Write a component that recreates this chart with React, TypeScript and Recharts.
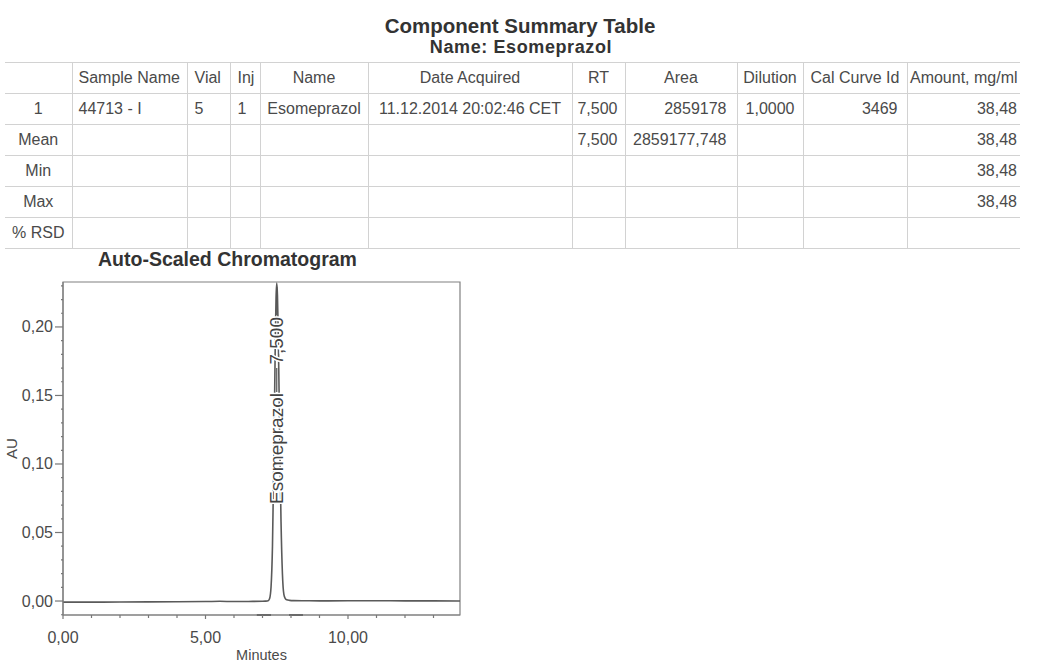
import { Label, Line, LineChart, ReferenceArea, ReferenceLine, XAxis, YAxis } from 'recharts';

// chromatogram trace (minutes vs AU)
const minutes = [
  0, 1, 2, 3, 4, 5, 5.5, 6, 6.5, 7.0, 7.1, 7.2, 7.25, 7.3, 7.35, 7.4, 7.45, 7.475, 7.5, 7.525, 7.55, 7.6,
  7.65, 7.7, 7.75, 7.8, 7.85, 7.95, 8.1, 8.5, 9, 10, 11, 12, 13, 13.93,
];
const absorbance = [
  -0.0008, -0.0008, -0.0007, -0.0006, -0.0005, -0.0004, -0.0002, -0.0004, -0.0003, -0.0002, -0.0001, 0.0002,
  0.0018, 0.0102, 0.04, 0.106, 0.191, 0.221, 0.232, 0.223, 0.199, 0.125, 0.058, 0.0196, 0.0049, 0.0018,
  0.0009, 0.0005, 0.0003, 0.0002, 0.0001, 0.0002, 0.0002, 0.0001, 0.0001, 0.0,
];

const peakName = 'Esomeprazol';
const peakRT = 7.5;
const peakRTLabel = '7,500';
const peakStartMark = [6.8, 7.3];
const peakEndMark = [7.93, 8.42];

const xDomain = [0, 13.93];
const yDomain = [-0.0102, 0.2328];
const xTicks = [0, 1, 2, 3, 4, 5, 6, 7, 8, 9, 10, 11, 12, 13];
const yTicks = [
  -0.01, 0, 0.01, 0.02, 0.03, 0.04, 0.05, 0.06, 0.07, 0.08, 0.09, 0.1, 0.11, 0.12, 0.13, 0.14, 0.15, 0.16,
  0.17, 0.18, 0.19, 0.2, 0.21, 0.22, 0.23,
];

// summary table
const tableHeaders = ['', 'Sample Name', 'Vial', 'Inj', 'Name', 'Date Acquired', 'RT', 'Area', 'Dilution', 'Cal Curve Id', 'Amount, mg/ml'];
const rowSample = ['1', '44713 - I', '5', '1', 'Esomeprazol', '11.12.2014 20:02:46 CET', '7,500', '2859178', '1,0000', '3469', '38,48'];
const rowMean = ['Mean', '', '', '', '', '', '7,500', '2859177,748', '', '', '38,48'];
const rowMin = ['Min', '', '', '', '', '', '', '', '', '', '38,48'];
const rowMax = ['Max', '', '', '', '', '', '', '', '', '', '38,48'];
const rowRsd = ['% RSD', '', '', '', '', '', '', '', '', '', ''];

const data = minutes.map((t, i) => ({ t, au: absorbance[i] }));

const FONT = '"Liberation Sans", Arial, sans-serif';
const INK = '#4a4a4a';
const GRID = '1px solid #d2d2d2';

const colWidths = [67, 115, 43, 30, 108, 204, 53, 112, 66, 104, 113];
const bodyAlign = ['center', 'left', 'left', 'left', 'center', 'center', 'right', 'right', 'center', 'right', 'right'];
const headAlign = ['center', 'left', 'left', 'left', 'center', 'center', 'center', 'center', 'center', 'center', 'center'];
const colPad = [0, 6, 7, 7, 0, 0, 7, 10, 0, 9, 3];

const fmt = (v: number) => v.toFixed(2).replace('.', ',');

function YTick(props: any) {
  const { x, y, payload } = props;
  const v = payload.value as number;
  const major = Math.round(v * 100) % 5 === 0 && v >= 0;
  return (
    <g>
      <line x1={x - (major ? 8 : 2)} x2={x} y1={y} y2={y} stroke="#777" strokeWidth={1.2} />
      {major && (
        <text x={x - 10} y={y} textAnchor="end" dominantBaseline="central" fontSize={16} fill={INK} fontFamily={FONT}>
          {fmt(v)}
        </text>
      )}
    </g>
  );
}

function XTick(props: any) {
  const { x, y, payload } = props;
  const v = payload.value as number;
  const major = v % 5 === 0;
  return (
    <g>
      <line x1={x} x2={x} y1={y} y2={y + (major ? 4 : 3)} stroke="#777" strokeWidth={1.2} />
      {major && (
        <text x={x} y={y + 22} textAnchor="middle" dominantBaseline="central" fontSize={16} fill={INK} fontFamily={FONT}>
          {fmt(v)}
        </text>
      )}
    </g>
  );
}

function PeakLabel(props: any) {
  const vb = props.viewBox || {};
  const x = vb.x;
  const top = vb.y;
  const textStyle = {
    fontSize: 19,
    fill: '#444',
    fontFamily: FONT,
    stroke: '#fff',
    strokeWidth: 3,
    paintOrder: 'stroke',
  } as any;
  return (
    <g>
      <line x1={x} x2={x} y1={top + 5} y2={top + 33} stroke="#555" strokeWidth={1.2} />
      <text
        x={x}
        y={top + 35}
        transform={`rotate(-90, ${x}, ${top + 35})`}
        textAnchor="end"
        dominantBaseline="central"
        style={textStyle}
      >
        {peakRTLabel}
      </text>
      <line x1={x} x2={x} y1={top + 86} y2={top + 110} stroke="#555" strokeWidth={1.2} />
      <text
        x={x}
        y={top + 111}
        transform={`rotate(-90, ${x}, ${top + 111})`}
        textAnchor="end"
        dominantBaseline="central"
        style={textStyle}
      >
        {peakName}
      </text>
    </g>
  );
}

function SummaryTable() {
  const rows = [rowSample, rowMean, rowMin, rowMax, rowRsd];
  const cell = (i: number, align: string): React.CSSProperties => ({
    height: 30,
    padding: 0,
    paddingLeft: align === 'left' ? colPad[i] : 0,
    paddingRight: align === 'right' ? colPad[i] : 0,
    textAlign: align as any,
    borderLeft: i > 0 ? GRID : 'none',
    whiteSpace: 'nowrap',
    overflow: 'hidden',
  });
  return (
    <table
      style={{
        position: 'absolute',
        left: 5,
        top: 62,
        borderCollapse: 'collapse',
        tableLayout: 'fixed',
        width: colWidths.reduce((a, b) => a + b, 0),
        fontFamily: FONT,
        fontSize: 16,
        color: INK,
      }}
    >
      <colgroup>
        {colWidths.map((w, i) => (
          <col key={i} style={{ width: w }} />
        ))}
      </colgroup>
      <tbody>
        <tr style={{ borderTop: GRID, borderBottom: GRID }}>
          {tableHeaders.map((h, i) => (
            <td key={i} style={cell(i, headAlign[i])}>
              {h}
            </td>
          ))}
        </tr>
        {rows.map((r, ri) => (
          <tr key={ri} style={{ borderBottom: GRID }}>
            {r.map((v, i) => (
              <td key={i} style={cell(i, bodyAlign[i])}>
                {v}
              </td>
            ))}
          </tr>
        ))}
      </tbody>
    </table>
  );
}

export default function App() {
  return (
    <div style={{ position: 'absolute', left: 0, top: 0, width: 1037, height: 662, background: '#fff', overflow: 'hidden' }}>
      <div style={{ position: 'absolute', left: 0, width: 1040, top: 14, textAlign: 'center', fontFamily: FONT, fontWeight: 700, fontSize: 20.5, color: '#333' }}>
        Component Summary Table
      </div>
      <div style={{ position: 'absolute', left: 0, width: 1042, top: 37, textAlign: 'center', fontFamily: FONT, fontWeight: 700, fontSize: 18, letterSpacing: 0.6, color: '#333' }}>
        Name: Esomeprazol
      </div>
      <SummaryTable />
      <div style={{ position: 'absolute', left: 98, top: 248, fontFamily: FONT, fontWeight: 700, fontSize: 19.5, color: '#333', whiteSpace: 'nowrap' }}>
        Auto-Scaled Chromatogram
      </div>
      <div style={{ position: 'absolute', left: 0, top: 240 }}>
        <LineChart width={470} height={422} data={data} margin={{ top: 42, right: 10, left: 0, bottom: 0 }}>
          <XAxis
            type="number"
            dataKey="t"
            domain={xDomain}
            ticks={xTicks}
            allowDataOverflow
            height={47}
            tickSize={0}
            tickMargin={0}
            tick={<XTick />}
            axisLine={{ stroke: '#808080', strokeWidth: 1.2 }}
            tickLine={false}
            interval={0}
          >
            <Label
              content={(p: any) => {
                const vb = p.viewBox;
                return (
                  <text x={vb.x + vb.width / 2} y={vb.y + 40} textAnchor="middle" dominantBaseline="central" fontSize={14.5} fill={INK} fontFamily={FONT}>
                    Minutes
                  </text>
                );
              }}
            />
          </XAxis>
          <YAxis
            type="number"
            domain={yDomain}
            ticks={yTicks}
            allowDataOverflow
            width={63}
            tickSize={0}
            tickMargin={0}
            tick={<YTick />}
            axisLine={{ stroke: '#808080', strokeWidth: 1.2 }}
            tickLine={false}
            interval={0}
          >
            <Label
              content={(p: any) => {
                const vb = p.viewBox;
                const cy = vb.y + vb.height / 2;
                return (
                  <text x={11} y={cy} transform={`rotate(-90, 11, ${cy})`} textAnchor="middle" dominantBaseline="central" fontSize={15} fill={INK} fontFamily={FONT}>
                    AU
                  </text>
                );
              }}
            />
          </YAxis>
          <ReferenceArea x1={xDomain[0]} x2={xDomain[1]} y1={yDomain[0]} y2={yDomain[1]} fill="none" stroke="#808080" strokeWidth={1.2} />
          <ReferenceLine
            segment={[{ x: peakStartMark[0], y: yDomain[0] }, { x: peakStartMark[1], y: yDomain[0] }]}
            stroke="#555"
            strokeWidth={2}
          />
          <ReferenceLine
            segment={[{ x: peakEndMark[0], y: yDomain[0] }, { x: peakEndMark[1], y: yDomain[0] }]}
            stroke="#555"
            strokeWidth={2}
          />
          <Line type="monotone" dataKey="au" stroke="#5a5a5a" strokeWidth={1.6} dot={false} isAnimationActive={false} />
          <ReferenceLine x={peakRT} stroke="none" label={(p: any) => <PeakLabel {...p} />} />
        </LineChart>
      </div>
    </div>
  );
}
